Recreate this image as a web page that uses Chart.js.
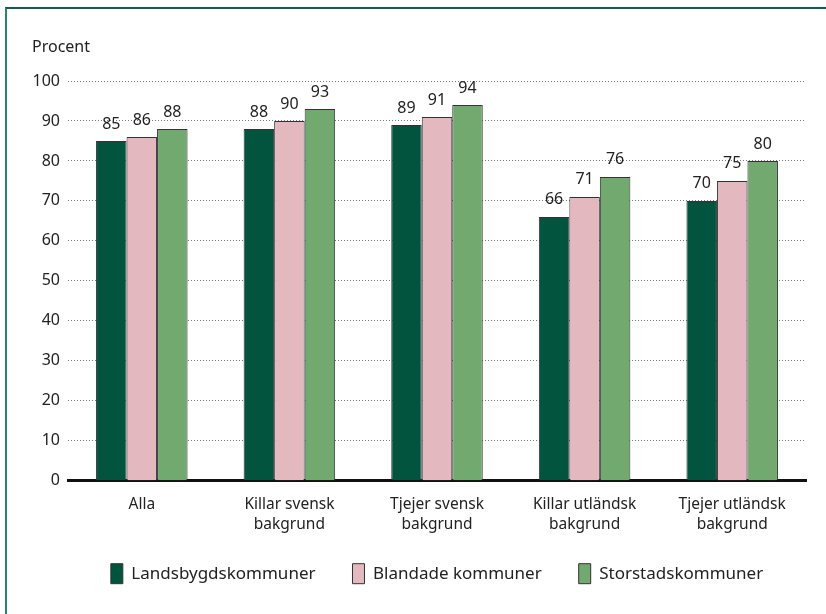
<!DOCTYPE html>
<html>
<head>
<meta charset="utf-8">
<script src="https://cdn.jsdelivr.net/npm/chart.js@4"></script>
<style>
  body { margin: 0; background: #fff; }
  #wrap { position: relative; width: 826px; height: 614px; }
  #frame { position: absolute; left: 5px; top: 7px; right: 0; bottom: 0;
    border-top: 2px solid #0f5c4a; border-left: 2px solid #2a8570; }
  canvas { position: absolute; left: 0; top: 0; }
</style>
</head>
<body>
<div id="wrap">
  <div id="frame"></div>
  <canvas id="myChart" width="826" height="614"></canvas>
</div>
<script>
const categories = ['Alla', ['Killar svensk', 'bakgrund'], ['Tjejer svensk', 'bakgrund'],
  ['Killar utländsk', 'bakgrund'], ['Tjejer utländsk', 'bakgrund']];
const seriesNames = ['Landsbygdskommuner', 'Blandade kommuner', 'Storstadskommuner'];
const landsbygd = [85, 88, 89, 66, 70];
const blandade = [86, 90, 91, 71, 75];
const storstad = [88, 93, 94, 76, 80];
const colors = ['#03543f', '#e3b9bf', '#72a96f'];
const yTicks = [0, 10, 20, 30, 40, 50, 60, 70, 80, 90, 100];

Chart.defaults.font.family = "'Noto Sans', sans-serif";
Chart.defaults.color = '#222';

// value labels above bars + "Procent" over the y axis
const barLabels = {
  id: 'barLabels',
  afterLayout(chart) {
    // legend centred under the plot, not under the whole canvas
    const lg = chart.legend;
    const h = lg.height;
    lg.left = chart.chartArea.left;
    lg.right = chart.chartArea.right;
    lg.top = chart.chartArea.bottom + 46;
    lg.bottom = lg.top + h;
  },
  afterDatasetsDraw(chart) {
    const ctx = chart.ctx;
    ctx.save();
    ctx.font = "16px 'Noto Sans', sans-serif";
    ctx.fillStyle = '#222';
    ctx.textAlign = 'center';
    ctx.textBaseline = 'middle';
    chart.data.datasets.forEach((ds, i) => {
      chart.getDatasetMeta(i).data.forEach((bar, j) => {
        ctx.fillText(ds.data[j], bar.x, bar.y - 17);
      });
    });
    ctx.textAlign = 'left';
    ctx.fillText('Procent', chart.chartArea.left - 36, chart.chartArea.top - 34);
    ctx.restore();
  }
};

const stadistic = document.getElementById('myChart');
new Chart(stadistic, {
  type: 'bar',
  data: {
    labels: categories,
    datasets: [landsbygd, blandade, storstad].map((d, i) => ({
      label: seriesNames[i],
      data: d,
      backgroundColor: colors[i],
      borderColor: '#333',
      borderWidth: 1,
      borderSkipped: 'bottom',
      barPercentage: 1,
      categoryPercentage: 0.62
    }))
  },
  options: {
    responsive: false,
    animation: false,
    layout: { padding: { left: 0, right: 20, top: 81, bottom: 6 } },
    plugins: {
      tooltip: { enabled: false },
      legend: {
        position: 'bottom',
        labels: {
          boxWidth: 12,
          boxHeight: 20,
          padding: 37,
          font: { size: 17 },
          color: '#222'
        }
      }
    },
    scales: {
      x: {
        grid: { display: false },
        border: { display: true, color: '#111', width: 3 },
        ticks: { font: { size: 15.5, lineHeight: 1.3 }, padding: 6, maxRotation: 0, color: '#222' }
      },
      y: {
        min: 0,
        max: 100,
        afterBuildTicks(scale) { scale.ticks = yTicks.map(v => ({ value: v })); },
        afterFit(scale) { scale.width = 68; },
        grid: { color: '#777', lineWidth: 1, drawTicks: false },
        border: { display: false, dash: [1, 2] },
        ticks: { font: { size: 16 }, padding: 8, color: '#222' }
      }
    }
  },
  plugins: [barLabels]
});
</script>
</body>
</html>
